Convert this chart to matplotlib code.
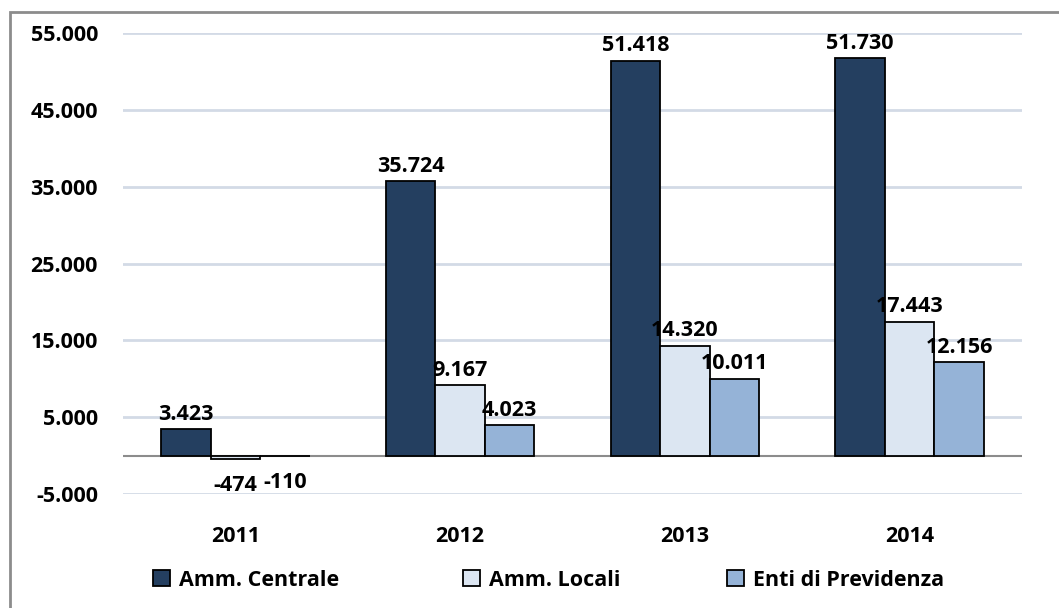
import matplotlib
matplotlib.use("Agg")
import matplotlib.pyplot as plt
from matplotlib.patches import Patch, Rectangle
import numpy as np

plt.rcParams['font.family'] = ['Open Sans', 'DejaVu Sans']
plt.rcParams['font.weight'] = 'bold'

years = ["2011", "2012", "2013", "2014"]
series = ["Amm. Centrale", "Amm. Locali", "Enti di Previdenza"]
centrale = [3423, 35724, 51418, 51730]
locali = [-474, 9167, 14320, 17443]
previdenza = [-110, 4023, 10011, 12156]
colors = ["#243F60", "#DCE6F2", "#95B3D7"]

def fmt(v):
    return "{:,}".format(v).replace(",", ".")

fig = plt.figure(figsize=(10.59, 6.08), dpi=100)
W, H = 1059, 608
ax = fig.add_axes([123 / W, 1 - 494 / H, (1022 - 123) / W, (494 - 33) / H])

fs = 15.5
x = np.arange(len(years))
w = 0.22
for i, (vals, c) in enumerate(zip([centrale, locali, previdenza], colors)):
    pos = x + (i - 1) * w
    ax.bar(pos, vals, w, color=c, edgecolor="black", linewidth=1.3, zorder=3)
    for px, v in zip(pos, vals):
        if v >= 0:
            ax.annotate(fmt(v), (px, v), xytext=(0, 3), textcoords="offset points",
                        ha="center", va="bottom", fontsize=fs, fontweight="bold")
        else:
            ax.annotate(fmt(v), (px, v), xytext=(0, -11), textcoords="offset points",
                        ha="center", va="top", fontsize=fs, fontweight="bold")

ax.set_ylim(-5000, 55000)
ax.set_xlim(-0.5, 3.5)
yt = [-5000, 5000, 15000, 25000, 35000, 45000, 55000]
ax.set_yticks(yt)
ax.set_yticklabels([fmt(v) for v in yt], fontsize=fs, fontweight="bold")
ax.set_xticks(x)
ax.set_xticklabels(years, fontsize=fs, fontweight="bold")
ax.tick_params(axis="both", length=0)
ax.tick_params(axis="y", pad=18)
ax.tick_params(axis="x", pad=23)
for s in ax.spines.values():
    s.set_visible(False)
ax.grid(axis="y", color="#D3DAE6", linewidth=2, zorder=0)
ax.axhline(0, color="#8C8C8C", linewidth=1.5, zorder=2)

leg_x = [142, 452, 716]
for lx, lab, c in zip(leg_x, series, colors):
    fig.legend(handles=[Patch(facecolor=c, edgecolor="black", linewidth=1.3)],
               labels=[lab], loc="center left", bbox_to_anchor=(lx / W, 1 - 580 / H),
               frameon=False, prop={"size": fs, "weight": "bold"},
               handlelength=0.8, handleheight=0.8, handletextpad=0.4, borderpad=0)

fig.patches.append(Rectangle((10 / W, -0.1), 1.2, 1 - 12 / H + 0.1,
                             transform=fig.transFigure, fill=False,
                             edgecolor="#8C8C8C", linewidth=2))

fig.savefig("out.png", dpi=100)
